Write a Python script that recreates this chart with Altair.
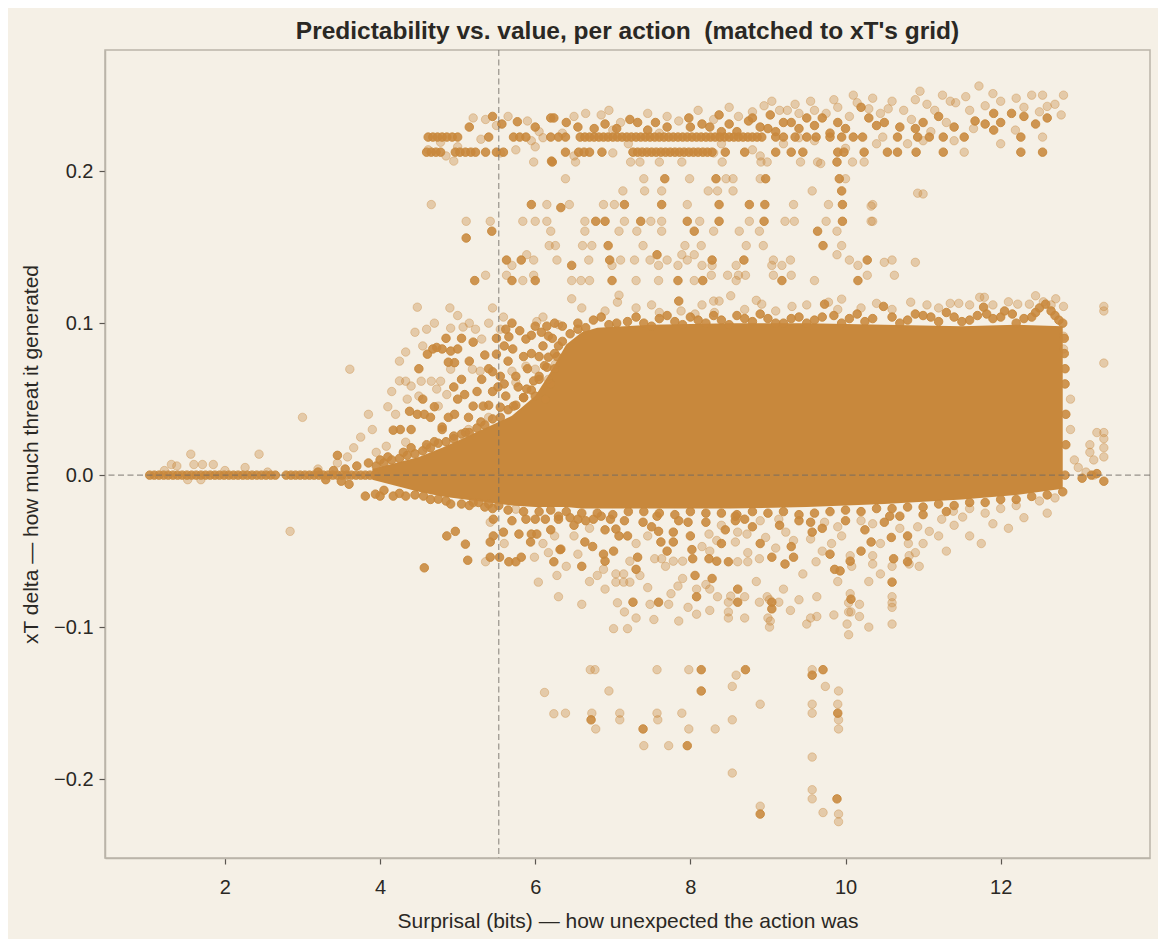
import altair as alt
import pandas as pd

ORANGE = "#c8883c"
BG = "#f5f0e6"
INK = "#2a2824"
FONT = "Liberation Sans"

# ---- values ----

# solid core (overplotted band) : x, upper edge, lower edge
CORE_X = [3.9, 4.2, 4.5, 4.8, 5.1, 5.4, 5.7, 6.0, 6.2, 6.4, 6.6, 6.8, 7.5, 8.5, 9.5, 10.5, 11.5, 12.2, 12.8]
CORE_TOP = [0.004, 0.008, 0.012, 0.018, 0.025, 0.032, 0.039, 0.052, 0.068, 0.086, 0.094, 0.097, 0.099,
            0.100, 0.100, 0.099, 0.098, 0.099, 0.098]
CORE_BOTTOM = [-0.003, -0.007, -0.011, -0.014, -0.016, -0.018, -0.020, -0.021, -0.021, -0.021, -0.022,
               -0.022, -0.022, -0.022, -0.021, -0.019, -0.016, -0.013, -0.009]

# zero-value actions, low surprisal
LEFT_LINE_X = [1.03, 1.09, 1.15, 1.21, 1.27, 1.33, 1.39, 1.45, 1.51, 1.57, 1.63, 1.69, 1.75, 1.81,
               1.87, 1.93, 1.99, 2.05, 2.11, 2.17, 2.23, 2.29, 2.35, 2.41, 2.47, 2.53, 2.59, 2.65,
               2.79, 2.85, 2.91, 2.97, 3.03, 3.09, 3.15, 3.21, 3.27, 3.33, 3.39, 3.45, 3.51, 3.57,
               3.63, 3.69, 3.75, 3.81, 3.87, 3.93]

# the two xT grid rows near the top
ROW_HI_Y = 0.2224
ROW_HI_X = [4.62, 4.68, 4.74, 4.8, 4.86, 4.93, 5.0, 5.4, 5.72, 5.8, 5.88, 6.2, 6.3, 6.39, 6.58, 6.64,
            6.7, 6.76, 6.82, 6.88, 6.94, 7.0, 7.06, 7.12, 7.18, 7.24, 7.3, 7.36, 7.42, 7.48, 7.54,
            7.6, 7.66, 7.72, 7.78, 7.84, 7.9, 7.96, 8.02, 8.08, 8.14, 8.2, 8.26, 8.32, 8.38, 8.44,
            8.5, 8.56, 8.62, 8.68, 8.74, 8.8, 8.86, 8.92, 9.1, 9.2, 9.35, 9.5, 9.62, 9.8, 9.95,
            10.1, 10.22, 10.67, 10.93, 11.08, 11.26, 11.53, 12.26]
ROW_LO_Y = 0.2125
ROW_LO_X = [4.6, 4.66, 4.72, 4.78, 4.97, 5.03, 5.1, 5.17, 5.23, 5.36, 5.5, 5.59, 6.39, 6.56, 6.63,
            6.7, 6.86, 7.26, 7.32, 7.38, 7.44, 7.5, 7.56, 7.62, 7.68, 7.74, 7.8, 7.86, 7.92, 7.98,
            8.04, 8.1, 8.16, 8.22, 8.28, 8.45, 8.7, 9.1, 9.3, 9.45, 9.9, 9.98, 10.24, 10.54, 10.67,
            10.91, 11.26, 12.26, 12.54]

TOP_HEAVY = [(6.2, 0.235), (6.4, 0.232), (6.76, 0.228), (7.22, 0.234), (7.32, 0.232), (7.55, 0.232),
             (7.98, 0.235), (8.15, 0.231), (8.25, 0.229), (8.37, 0.237), (8.75, 0.233), (9.03, 0.237),
             (9.3, 0.232), (9.5, 0.235), (10.2, 0.242), (11.91, 0.238), (12.14, 0.238), (12.45, 0.231),
             (11.91, 0.227), (11.67, 0.233), (10.4, 0.23), (9.0, 0.228), (8.6, 0.226), (10.9, 0.228),
             (11.2, 0.236), (9.8, 0.225), (8.4, 0.226), (5.15, 0.229), (5.57, 0.231), (5.77, 0.2325),
             (6.24, 0.235), (6.21, 0.2066), (5.45, 0.236), (8.9, 0.229), (9.1, 0.226), (9.2, 0.232),
             (9.4, 0.228), (9.6, 0.23), (9.7, 0.235), (9.9, 0.232), (10.0, 0.228), (10.3, 0.235),
             (10.5, 0.232), (10.7, 0.229), (11.0, 0.232), (11.4, 0.229), (11.8, 0.231), (12.0, 0.232),
             (12.3, 0.236), (12.6, 0.235), (8.8, 0.235), (8.5, 0.231), (8.0, 0.229), (7.7, 0.229),
             (7.45, 0.227), (7.05, 0.228), (6.9, 0.231), (6.55, 0.229), (6.0, 0.229)]
TOP_LIGHT = [(5.36, 0.234), (5.5, 0.23), (5.65, 0.236), (5.9, 0.233), (6.05, 0.226), (6.5, 0.236),
             (6.65, 0.238), (6.85, 0.237), (6.95, 0.24), (7.1, 0.232), (7.45, 0.238), (7.7, 0.236),
             (7.85, 0.233), (8.1, 0.24), (8.3, 0.234), (8.5, 0.242), (8.62, 0.236), (8.8, 0.239),
             (8.95, 0.243), (9.15, 0.24), (9.25, 0.24), (9.4, 0.238), (9.6, 0.24), (9.75, 0.238),
             (9.9, 0.242), (10.05, 0.236), (10.15, 0.245), (10.3, 0.241), (10.45, 0.238), (10.6, 0.246),
             (10.75, 0.24), (10.85, 0.234), (10.96, 0.2526), (11.05, 0.244), (11.15, 0.24), (11.35, 0.246),
             (11.42, 0.245), (11.6, 0.24), (11.72, 0.256), (11.8, 0.243), (12.0, 0.246), (12.19, 0.227),
             (12.3, 0.242), (12.4, 0.25), (12.54, 0.25), (12.6, 0.2426), (12.78, 0.237), (12.81, 0.25),
             (4.62, 0.214), (4.85, 0.21), (5.0, 0.216), (5.3, 0.221), (5.55, 0.212), (5.75, 0.214),
             (6.0, 0.216), (6.1, 0.222), (6.5, 0.21), (7.0, 0.212), (7.2, 0.218), (8.4, 0.218),
             (8.8, 0.214), (9.2, 0.218), (9.6, 0.22), (10.0, 0.215), (10.48, 0.2224), (10.8, 0.218),
             (11.4, 0.22), (11.53, 0.2125), (12.0, 0.218), (12.54, 0.2224), (11.1, 0.226), (11.3, 0.232),
             (9.68, 0.205), (5.2, 0.235), (4.78, 0.219), (9.05, 0.246), (9.35, 0.244), (9.55, 0.246),
             (9.85, 0.247), (10.1, 0.25), (10.35, 0.248), (10.55, 0.241), (10.9, 0.247), (11.25, 0.25),
             (11.55, 0.249), (11.9, 0.251), (12.2, 0.248), (12.5, 0.239), (12.7, 0.244), (11.65, 0.228),
             (11.0, 0.22), (10.4, 0.218), (9.4, 0.222), (8.3, 0.212), (8.9, 0.21), (7.0, 0.227),
             (7.6, 0.225), (6.35, 0.225), (5.95, 0.22)]

MID_HEAVY = [(6.33, 0.176), (7.15, 0.178), (7.63, 0.178), (8.37, 0.178), (8.76, 0.178), (8.96, 0.178),
             (9.96, 0.178), (6.9, 0.167), (7.36, 0.167), (7.96, 0.167), (8.95, 0.167), (9.96, 0.167),
             (5.44, 0.1605), (8.05, 0.1605), (9.64, 0.1605), (5.11, 0.156), (6.94, 0.151), (9.71, 0.151),
             (7.57, 0.145), (5.63, 0.1415), (5.82, 0.1415), (6.96, 0.1415), (8.28, 0.1415), (8.69, 0.1415),
             (10.28, 0.1415), (6.47, 0.138), (5.22, 0.128), (5.7, 0.128), (6.0, 0.128), (6.99, 0.128),
             (7.84, 0.128), (8.16, 0.128), (9.18, 0.128), (10.16, 0.128), (7.67, 0.195), (8.33, 0.195),
             (8.97, 0.195), (9.92, 0.195), (6.22, 0.206), (9.89, 0.206), (9.95, 0.187), (5.95, 0.178),
             (6.78, 0.167), (8.37, 0.167)]
MID_LIGHT = [(4.66, 0.178), (6.15, 0.178), (6.44, 0.178), (6.88, 0.178), (7.02, 0.178), (7.96, 0.178),
             (9.33, 0.178), (9.78, 0.178), (10.35, 0.178), (5.11, 0.167), (5.42, 0.167), (5.84, 0.167),
             (6.0, 0.167), (6.15, 0.167), (6.64, 0.167), (7.15, 0.167), (7.49, 0.167), (7.63, 0.167),
             (8.12, 0.167), (8.76, 0.167), (9.22, 0.167), (9.34, 0.167), (9.75, 0.167), (10.35, 0.167),
             (6.2, 0.1605), (6.64, 0.1605), (7.08, 0.1605), (7.31, 0.1605), (7.63, 0.1605), (8.3, 0.1605),
             (8.63, 0.1605), (8.89, 0.1605), (9.89, 0.1605), (6.18, 0.151), (6.26, 0.151), (6.61, 0.151),
             (6.73, 0.151), (7.39, 0.151), (7.93, 0.151), (8.14, 0.151), (8.72, 0.151), (8.94, 0.151),
             (9.95, 0.151), (5.89, 0.145), (7.89, 0.145), (8.05, 0.145), (9.89, 0.145), (5.98, 0.1415),
             (6.28, 0.1415), (6.69, 0.1415), (7.1, 0.1415), (7.28, 0.1415), (7.48, 0.1415), (7.7, 0.1415),
             (7.96, 0.1415), (9.07, 0.1415), (9.29, 0.1415), (10.05, 0.1415), (10.6, 0.1415), (5.7, 0.138),
             (6.99, 0.138), (7.59, 0.138), (7.84, 0.138), (8.15, 0.138), (8.28, 0.138), (8.59, 0.138),
             (9.05, 0.138), (9.18, 0.138), (10.16, 0.138), (5.36, 0.1315), (5.63, 0.1315), (5.98, 0.1315),
             (8.27, 0.1315), (8.48, 0.1315), (8.62, 0.1315), (8.71, 0.1315), (9.07, 0.1315), (9.3, 0.1315),
             (10.28, 0.1315), (10.63, 0.1315), (5.84, 0.128), (6.47, 0.128), (6.59, 0.128), (6.7, 0.128),
             (7.3, 0.128), (7.59, 0.128), (8.05, 0.128), (8.59, 0.128), (9.6, 0.128), (6.39, 0.195),
             (7.4, 0.195), (7.99, 0.195), (8.46, 0.195), (8.55, 0.195), (8.9, 0.195), (10.0, 0.195),
             (4.95, 0.2066), (5.98, 0.206), (6.52, 0.206), (7.23, 0.206), (7.35, 0.206), (7.6, 0.206),
             (7.89, 0.206), (8.41, 0.206), (8.91, 0.206), (8.99, 0.206), (9.42, 0.206), (9.64, 0.206),
             (10.09, 0.206), (10.24, 0.206), (7.13, 0.187), (7.41, 0.187), (7.63, 0.187), (8.23, 0.187),
             (8.35, 0.187), (8.55, 0.187), (9.57, 0.187), (10.93, 0.1855), (10.33, 0.177), (10.33, 0.167),
             (11.0, 0.185), (10.5, 0.14), (10.9, 0.14)]

WEDGE_HEAVY = [(3.45, 0.013), (4.17, 0.0296), (4.26, 0.03), (4.48, 0.04), (4.57, 0.04), (3.94, -0.0125),
               (4.17, -0.0138), (4.33, -0.0138), (4.56, -0.0138), (4.75, -0.0158), (4.91, -0.019),
               (3.81, -0.0138), (4.0, -0.0138), (3.6, -0.006), (3.7, 0.006), (3.85, 0.008), (4.0, 0.01),
               (4.1, 0.012), (4.3, 0.015), (4.4, 0.018), (4.6, 0.02), (4.7, 0.022), (4.8, 0.03),
               (4.95, 0.0257), (5.1, 0.028), (5.3, 0.035), (5.27, -0.018), (5.4, -0.019), (5.53, -0.02),
               (5.2, -0.018), (3.5, -0.004), (3.3, -0.003), (3.2, 0.002), (3.4, 0.003), (3.55, 0.004),
               (4.61, 0.0796), (4.73, 0.084), (4.91, 0.0816), (4.88, 0.0743), (4.96, 0.074), (5.2, 0.0875),
               (5.35, 0.079), (5.5, 0.0796), (5.31, 0.063), (5.09, 0.053), (5.2, 0.0454), (5.33, 0.0454),
               (4.65, 0.038), (4.88, 0.038), (4.96, 0.04), (5.14, 0.038), (4.8, 0.0316), (5.55, 0.0447),
               (5.66, 0.091), (5.71, 0.083), (5.88, 0.0895), (6.08, 0.094), (6.17, 0.0915), (6.17, 0.0776),
               (5.62, 0.052), (5.72, 0.0454), (5.85, 0.051), (6.0, 0.052), (6.13, 0.05), (5.89, 0.0566),
               (4.68, 0.083), (4.8, 0.083), (5.0, 0.083), (5.6, 0.06), (5.75, 0.065), (5.9, 0.07),
               (6.05, 0.065), (6.2, 0.06), (5.65, 0.075), (5.95, 0.08), (6.1, 0.085), (6.25, 0.07),
               (5.8, 0.095), (6.0, 0.098), (6.25, 0.1), (5.55, 0.065), (6.15, 0.098), (5.45, 0.055),
               (5.05, 0.063), (5.4, 0.07), (5.6, 0.085), (5.7, 0.1), (5.85, 0.078), (5.95, 0.092),
               (6.05, 0.078), (6.12, 0.072), (6.22, 0.09), (6.3, 0.085), (5.5, 0.09), (5.62, 0.096),
               (5.78, 0.058), (5.98, 0.062), (6.28, 0.078), (5.52, 0.058), (5.4, 0.046),
               (4.4, 0.03), (4.55, 0.05), (4.7, 0.045), (5.0, 0.05), (5.25, 0.055), (5.45, 0.068),
               (5.05, 0.09), (4.85, 0.09), (4.5, 0.07), (4.38, 0.042), (5.15, 0.075), (4.95, 0.058)]
WEDGE_EDGE = [(3.95, 0.006), (4.05, 0.008), (4.15, 0.01), (4.25, 0.011), (4.35, 0.013), (4.45, 0.014),
              (4.55, 0.016), (4.65, 0.018), (4.75, 0.021), (4.85, 0.022), (4.95, 0.024), (5.05, 0.027),
              (5.15, 0.028), (5.25, 0.031), (5.35, 0.033), (5.45, 0.037), (5.55, 0.038), (5.65, 0.043),
              (5.75, 0.046), (5.85, 0.051), (5.95, 0.056), (6.05, 0.063), (6.15, 0.071), (6.25, 0.08),
              (6.35, 0.088), (6.45, 0.093), (6.55, 0.096), (4.05, -0.01), (4.25, -0.012), (4.45, -0.013),
              (4.65, -0.016), (4.85, -0.017), (5.05, -0.019), (5.15, -0.02), (5.35, -0.021), (5.45, -0.022),
              (5.65, -0.023), (5.85, -0.024), (6.05, -0.024)]
WEDGE_LIGHT = [(1.31, 0.007), (1.38, 0.006), (1.56, 0.0138), (1.6, 0.007), (1.71, 0.007), (1.85, 0.007),
               (2.26, 0.005), (2.44, 0.0138), (1.52, -0.003), (1.69, -0.003), (1.22, 0.003), (2.0, 0.003),
               (2.55, 0.002), (3.0, 0.038), (3.66, 0.018), (2.84, -0.037), (3.45, 0.008), (3.58, 0.012),
               (3.95, 0.015), (4.08, 0.019), (4.33, 0.0217), (4.6, 0.018), (3.2, 0.004), (3.61, 0.0697),
               (4.48, 0.1105), (4.45, 0.094), (4.6, 0.096), (4.33, 0.081), (4.91, 0.0967), (5.07, 0.0974),
               (5.23, 0.096), (5.31, 0.0895), (4.33, 0.0618), (4.53, 0.0618), (4.66, 0.0618), (4.78, 0.0618),
               (4.4, 0.0586), (4.73, 0.0566), (4.86, 0.053), (4.75, 0.0454), (4.91, 0.0697), (5.19, 0.0697),
               (5.29, 0.0684), (5.59, 0.104), (5.55, 0.096), (5.7, 0.0684), (5.75, 0.061), (6.02, 0.101),
               (6.3, 0.099), (5.14, 0.03), (5.4, 0.038), (6.0, 0.0697), (6.26, 0.073), (5.88, 0.0717),
               (6.17, 0.063), (4.25, 0.062), (4.1, 0.045), (4.5, 0.052), (4.2, 0.04), (4.35, 0.05),
               (4.55, 0.085), (4.7, 0.1), (5.0, 0.105), (5.15, 0.1), (5.4, 0.1), (5.45, 0.11), (4.9, 0.11),
               (4.25, 0.075), (4.15, 0.055), (3.9, 0.03), (3.75, 0.025), (3.85, 0.04)]

NEG_HEAVY = [(4.86, -0.04), (4.97, -0.037), (5.1, -0.0454), (5.13, -0.056), (4.57, -0.061), (5.42, -0.044),
             (5.46, -0.04), (5.59, -0.0375), (5.42, -0.054), (5.54, -0.054), (5.66, -0.057), (5.75, -0.057),
             (5.82, -0.054), (5.46, -0.029), (5.7, -0.03), (5.79, -0.0388), (5.95, -0.0388), (6.02, -0.0388),
             (5.94, -0.044), (6.24, -0.057), (6.32, -0.049), (5.88, -0.029), (6.0, -0.029), (6.13, -0.029),
             (6.3, -0.029), (6.33, -0.0487), (6.64, -0.044), (6.74, -0.047), (6.88, -0.052), (6.9, -0.0566),
             (6.97, -0.029), (7.04, -0.0355), (7.08, -0.04), (7.01, -0.05), (7.19, -0.04), (7.32, -0.054),
             (7.39, -0.031), (7.57, -0.027), (7.59, -0.037), (7.62, -0.044), (7.78, -0.0375), (7.78, -0.044),
             (7.97, -0.031), (8.0, -0.04), (8.02, -0.049), (8.03, -0.055), (8.06, -0.066), (8.08, -0.08),
             (8.24, -0.055), (8.34, -0.0566), (8.49, -0.057), (8.28, -0.068), (8.58, -0.027), (8.58, -0.03),
             (8.7, -0.029), (9.05, -0.054), (9.33, -0.054), (9.22, -0.0585), (9.55, -0.031), (9.57, -0.0375),
             (9.86, -0.062), (9.93, -0.063), (10.06, -0.0566), (10.33, -0.044), (10.57, -0.027),
             (10.59, -0.041), (10.62, -0.055), (10.6, -0.0704), (10.8, -0.04), (10.8, -0.057),
             (10.07, -0.0816), (8.61, -0.075), (8.61, -0.0836), (9.05, -0.0836), (9.05, -0.088),
             (7.26, -0.0836), (7.59, -0.0836), (6.3, -0.027), (6.45, -0.028), (6.55, -0.029), (6.65, -0.03),
             (6.75, -0.029), (6.85, -0.027), (8.14, -0.128), (8.71, -0.128), (9.71, -0.128), (9.57, -0.1316),
             (8.14, -0.142), (9.9, -0.1566), (6.72, -0.161), (7.39, -0.167), (7.96, -0.178), (9.89, -0.213),
             (8.9, -0.223), (6.5, -0.033), (6.9, -0.036), (7.15, -0.03), (7.5, -0.034), (7.85, -0.03),
             (8.2, -0.031), (8.45, -0.036), (8.8, -0.034), (9.15, -0.033), (9.4, -0.03), (9.7, -0.035),
             (10.0, -0.03), (10.25, -0.036), (10.5, -0.031), (10.7, -0.027), (11.0, -0.026), (11.3, -0.024),
             (7.3, -0.062), (7.7, -0.05), (8.4, -0.045), (8.9, -0.045), (9.3, -0.047), (9.8, -0.052),
             (10.2, -0.05), (6.6, -0.06), (6.2, -0.036)]
NEG_LIGHT = [(5.36, -0.057), (5.42, -0.031), (5.75, -0.0224), (5.99, -0.054), (6.04, -0.0704),
             (6.17, -0.051), (6.25, -0.04), (6.28, -0.066), (6.88, -0.062), (7.04, -0.065), (7.14, -0.065),
             (7.04, -0.0704), (7.14, -0.0704), (7.22, -0.0704), (6.9, -0.075), (7.06, -0.084), (7.48, -0.085),
             (7.72, -0.085), (7.35, -0.066), (7.84, -0.073), (7.9, -0.068), (7.97, -0.087), (8.08, -0.075),
             (8.2, -0.072), (8.25, -0.075), (8.49, -0.0836), (8.52, -0.0796), (8.7, -0.08), (8.89, -0.0836),
             (8.99, -0.08), (9.02, -0.082), (9.14, -0.0836), (9.29, -0.089), (9.63, -0.08), (9.62, -0.057),
             (9.82, -0.045), (9.95, -0.04), (10.06, -0.053), (10.08, -0.06), (10.06, -0.078), (10.04, -0.084),
             (10.18, -0.085), (10.35, -0.032), (10.35, -0.053), (10.35, -0.0585), (10.6, -0.06), (10.6, -0.08),
             (10.6, -0.084), (10.81, -0.045), (10.82, -0.053), (10.82, -0.0585), (10.9, -0.051),
             (10.93, -0.034), (11.08, -0.037), (11.24, -0.029), (11.39, -0.0237), (11.51, -0.0276),
             (8.61, -0.0375), (8.73, -0.0388), (8.58, -0.044), (8.61, -0.057), (8.74, -0.051), (8.74, -0.057),
             (8.89, -0.055), (9.14, -0.029), (9.23, -0.0375), (9.33, -0.043), (9.55, -0.042), (9.73, -0.031),
             (8.97, -0.041), (8.24, -0.0388), (8.34, -0.043), (8.25, -0.05), (7.9, -0.0566), (7.78, -0.0566),
             (7.63, -0.055), (7.54, -0.055), (7.22, -0.0566), (8.08, -0.0915), (8.49, -0.09), (8.49, -0.094),
             (8.7, -0.094), (9.0, -0.094), (9.63, -0.093), (10.04, -0.09), (10.18, -0.093), (10.6, -0.087),
             (7.01, -0.101), (7.19, -0.101), (7.3, -0.094), (7.53, -0.095), (7.85, -0.096), (8.25, -0.089),
             (9.02, -0.1), (9.03, -0.096), (9.5, -0.098), (9.55, -0.094), (10.02, -0.098), (10.07, -0.09),
             (10.6, -0.098), (10.04, -0.105), (6.4, -0.06), (6.55, -0.052), (6.5, -0.04), (6.7, -0.035),
             (6.8, -0.066), (7.3, -0.045), (7.45, -0.04), (7.68, -0.06), (8.15, -0.047), (8.4, -0.033),
             (8.9, -0.03), (9.1, -0.048), (9.45, -0.065), (9.7, -0.05), (9.9, -0.034), (10.2, -0.03),
             (10.45, -0.045), (10.7, -0.035), (11.0, -0.045), (11.2, -0.04), (11.6, -0.022), (11.8, -0.025),
             (12.0, -0.022), (12.2, -0.02), (12.5, -0.017), (12.7, -0.015), (11.4, -0.033), (6.1, -0.045),
             (5.6, -0.045), (6.71, -0.128), (6.77, -0.128), (7.57, -0.128), (7.98, -0.128), (9.57, -0.128),
             (8.59, -0.1316), (8.54, -0.139), (9.74, -0.139), (6.95, -0.142), (9.91, -0.142), (8.9, -0.1507),
             (9.57, -0.1507), (9.9, -0.1507), (6.39, -0.1566), (6.73, -0.1566), (7.09, -0.1566),
             (7.57, -0.1566), (7.89, -0.1566), (9.57, -0.1566), (7.09, -0.161), (7.58, -0.161), (8.54, -0.161),
             (9.91, -0.161), (6.78, -0.167), (7.98, -0.167), (8.32, -0.167), (9.91, -0.167), (7.4, -0.178),
             (7.72, -0.178), (9.57, -0.1855), (8.54, -0.196), (9.57, -0.207), (9.57, -0.213), (8.9, -0.2178),
             (9.71, -0.222), (9.91, -0.223), (9.91, -0.228), (6.12, -0.143), (6.24, -0.157),
             (6.7, -0.07), (7.45, -0.074), (7.75, -0.078), (8.35, -0.08), (8.85, -0.07), (9.2, -0.075),
             (9.4, -0.082), (9.9, -0.07), (10.3, -0.07), (10.45, -0.065), (10.95, -0.06), (11.3, -0.05),
             (11.6, -0.04), (11.9, -0.032), (12.3, -0.028), (12.6, -0.025), (12.1, -0.035), (11.75, -0.045),
             (6.3, -0.08), (6.6, -0.085), (7.15, -0.09), (9.85, -0.092), (10.3, -0.1)]

EDGE_HEAVY = [(6.35, 0.098), (6.55, 0.1), (6.75, 0.102), (6.95, 0.099), (7.19, 0.101), (7.4, 0.1),
              (7.6, 0.103), (7.8, 0.101), (8.0, 0.104), (8.2, 0.1), (8.4, 0.102), (8.6, 0.105), (8.8, 0.101),
              (9.0, 0.103), (9.2, 0.1), (9.4, 0.104), (9.6, 0.102), (9.73, 0.1125), (9.85, 0.105),
              (10.05, 0.103), (10.25, 0.101), (10.49, 0.111), (10.6, 0.104), (10.8, 0.102), (11.0, 0.105),
              (11.2, 0.101), (11.4, 0.104), (11.6, 0.102), (11.78, 0.1105), (11.82, 0.106), (12.0, 0.104),
              (12.15, 0.106), (12.3, 0.103), (12.45, 0.107), (12.58, 0.1125), (12.7, 0.105), (12.8, 0.1),
              (6.65, 0.097), (6.85, 0.104), (7.05, 0.1), (7.3, 0.104), (7.5, 0.098),
              (7.7, 0.105), (7.9, 0.099), (8.1, 0.102), (8.3, 0.105), (8.5, 0.099), (8.7, 0.103),
              (8.9, 0.106), (9.1, 0.1), (9.3, 0.103), (9.5, 0.1), (9.7, 0.104), (9.95, 0.1), (10.15, 0.106),
              (10.35, 0.103), (10.7, 0.1), (10.9, 0.106), (11.1, 0.104), (11.3, 0.107), (11.5, 0.101),
              (11.7, 0.105), (11.9, 0.103), (12.05, 0.108), (12.2, 0.1), (12.4, 0.104), (12.5, 0.11),
              (12.65, 0.108), (12.75, 0.102),
              (7.85, 0.1145), (12.82, 0.09), (12.82, 0.08), (12.83, 0.07), (12.83, 0.06), (12.84, 0.04),
              (12.84, 0.02), (12.83, 0.0), (6.4, -0.024), (6.8, -0.025), (7.2, -0.024), (7.6, -0.025),
              (8.0, -0.024), (8.4, -0.025), (8.8, -0.024), (9.2, -0.024), (9.6, -0.025), (10.0, -0.023),
              (10.4, -0.022), (10.8, -0.021), (11.2, -0.019), (11.6, -0.018), (12.0, -0.016),
              (12.4, -0.014), (12.8, -0.011), (6.2, -0.023), (6.6, -0.025), (7.0, -0.026), (7.4, -0.024),
              (7.8, -0.026), (8.2, -0.025), (8.6, -0.026), (9.0, -0.025), (9.4, -0.026), (9.8, -0.024),
              (10.2, -0.024), (10.6, -0.022), (11.0, -0.021), (11.4, -0.02), (11.8, -0.018), (12.2, -0.016),
              (12.6, -0.013), (13.33, -0.004), (13.17, 0.0), (13.24, 0.001), (13.05, -0.002)]
EDGE_LIGHT = [(6.47, 0.116), (7.08, 0.1184), (7.06, 0.1138), (8.3, 0.1145), (8.37, 0.1145), (8.52, 0.118),
              (8.92, 0.1125), (9.31, 0.111), (9.78, 0.1138), (9.95, 0.1158), (10.84, 0.1138), (11.35, 0.113),
              (11.46, 0.113), (11.6, 0.112), (11.73, 0.117), (11.79, 0.117), (12.22, 0.1125), (12.37, 0.1125),
              (12.55, 0.114), (12.71, 0.116), (12.81, 0.111), (12.81, 0.0914), (12.81, 0.083), (7.6, 0.107),
              (7.88, 0.108), (8.06, 0.106), (8.31, 0.107), (6.1, 0.104), (10.2, 0.11), (11.05, 0.112),
              (10.6, 0.109), (8.7, 0.109), (9.1, 0.108), (12.9, 0.05), (12.9, 0.03), (12.95, 0.01),
              (13.33, 0.111), (13.33, 0.108), (13.33, 0.0737), (13.33, 0.028), (13.33, 0.024), (13.33, 0.018),
              (13.33, 0.012), (13.2, 0.01), (13.15, 0.015), (13.15, 0.02), (13.24, 0.028), (13.0, 0.005),
              (13.1, 0.002), (13.2, 0.0), (6.6, 0.11), (6.9, 0.108), (7.3, 0.11), (7.5, 0.112),
              (8.15, 0.112), (8.85, 0.115), (9.5, 0.112), (9.9, 0.109), (10.4, 0.113), (11.2, 0.11),
              (11.9, 0.112), (12.1, 0.114), (12.45, 0.118), (12.65, 0.112)]

SURPRISAL_CUT = 5.53
X_TICKS = [2, 4, 6, 8, 10, 12]
Y_TICKS = [-0.2, -0.1, 0.0, 0.1, 0.2]


def pts(pairs):
    return pd.DataFrame(pairs, columns=["x", "y"])


heavy = pd.concat([
    pts([(x, 0.0) for x in LEFT_LINE_X]),
    pts([(x, ROW_HI_Y) for x in ROW_HI_X]),
    pts([(x, ROW_LO_Y) for x in ROW_LO_X]),
    pts(TOP_HEAVY), pts(MID_HEAVY), pts(WEDGE_HEAVY), pts(WEDGE_EDGE), pts(NEG_HEAVY), pts(EDGE_HEAVY),
])
light = pd.concat([pts(TOP_LIGHT), pts(MID_LIGHT), pts(WEDGE_LIGHT), pts(NEG_LIGHT), pts(EDGE_LIGHT)])
core = pd.DataFrame({"x": CORE_X, "top": CORE_TOP, "bottom": CORE_BOTTOM})

xscale = alt.Scale(domain=[0.454, 13.925], nice=False, zero=False)
yscale = alt.Scale(domain=[-0.2519, 0.2797], nice=False, zero=False)
XT = "Surprisal (bits) \u2014 how unexpected the action was"
YT = "xT delta \u2014 how much threat it generated"
xaxis = alt.Axis(values=X_TICKS, format="d", title=XT, grid=False)
yaxis = alt.Axis(values=Y_TICKS, format=".1f", title=YT, grid=False)

band = alt.Chart(core).mark_area(color=ORANGE, opacity=1).encode(
    x=alt.X("x:Q", scale=xscale, axis=xaxis),
    y=alt.Y("top:Q", scale=yscale, axis=yaxis),
    y2="bottom:Q",
)

light_pts = alt.Chart(light).mark_circle(
    size=72, color=ORANGE, fillOpacity=0.36, stroke=ORANGE, strokeOpacity=0.36, strokeWidth=1
).encode(
    x=alt.X("x:Q", scale=xscale, axis=xaxis),
    y=alt.Y("y:Q", scale=yscale, axis=yaxis),
)

heavy_pts = alt.Chart(heavy).mark_circle(
    size=72, color=ORANGE, fillOpacity=0.88, stroke=ORANGE, strokeOpacity=0.9, strokeWidth=1
).encode(
    x=alt.X("x:Q", scale=xscale, axis=xaxis),
    y=alt.Y("y:Q", scale=yscale, axis=yaxis),
)

zero_line = alt.Chart(pd.DataFrame({"y": [0.0]})).mark_rule(
    color="#6f6a64", opacity=0.7, strokeDash=[6, 3.5], strokeWidth=1.2
).encode(y=alt.Y("y:Q", scale=yscale, axis=yaxis))

cut_line = alt.Chart(pd.DataFrame({"x": [SURPRISAL_CUT]})).mark_rule(
    color="#6f6a64", opacity=0.7, strokeDash=[6, 3.5], strokeWidth=1.2
).encode(x=alt.X("x:Q", scale=xscale, axis=xaxis))

chart = alt.layer(band, light_pts, heavy_pts, zero_line, cut_line).properties(
    width=1045,
    height=808,
    autosize=alt.AutoSizeParams(type="none"),
    padding={"left": 97, "top": 42, "right": 8, "bottom": 81},
    background=BG,
    title=alt.TitleParams(
        "Predictability vs. value, per action \u00a0(matched to xT's grid)",
        font=FONT, fontSize=24.5, fontWeight="bold", color=INK, anchor="middle", offset=5,
    ),
).configure_view(
    fill=BG, stroke="#bab4a9", strokeWidth=1.5
).configure_axis(
    labelFont=FONT, titleFont=FONT, labelFontSize=20, titleFontSize=21,
    labelColor=INK, titleColor=INK, titleFontWeight="normal",
    domainColor="#bab4a9", domainWidth=1.5, tickColor="#5a5650", tickSize=6, tickWidth=1.2,
).configure_axisX(
    labelPadding=13, titlePadding=13
).configure_axisY(
    labelPadding=6, titlePadding=12
)

chart.save("out.html", embed_options={"renderer": "svg", "actions": False})
